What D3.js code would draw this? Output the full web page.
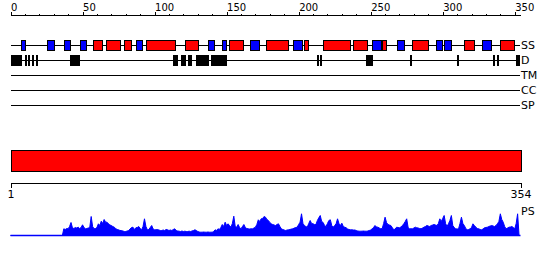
<!DOCTYPE html>
<html><head><meta charset="utf-8">
<script src="https://cdn.jsdelivr.net/npm/d3@7"></script>
<style>
body{margin:0;background:#fff}
svg{display:block}
text{font-family:"DejaVu Sans",sans-serif}
</style>
</head><body>
<svg id="chart" width="550" height="260"></svg>
<script>
// ---------------- data ----------------
const seqLength = 354;
const topMinorTicks = d3.range(0, 351, 10);
const topMajorTicks = [0, 50, 100, 150, 200, 250, 300, 350];
const bottomTicks = [1, 354];
const trackNames = ["SS", "D", "TM", "CC", "SP"];
const domainLabel = "PS";
// secondary structure: helices (red) and strands (blue), [start, end] residue positions
const helixRanges = [[57,63],[66,76],[79,84],[94,114],[121,130],[152,162],[177,192],[204,207],[217,236],[238,248],[258,261],[279,290],[315,322],[340,350]];
const strandRanges = [[7,10],[25,30],[37,41],[48,52],[87,91],[137,141],[147,150],[166,172],[196,202],[251,257],[268,273],[295,299],[301,306],[327,333]];
// disordered regions
const disorderRanges = [[0,7],[10,11],[12,13],[15,16],[18,19],[41,47],[113,116],[118,121],[123,125],[129,137],[139,148],[149,150],[213,214],[215,216],[247,251],[277,278],[310,311],[335,336],[338,339],[351,353]];
// domain bar
const domainRanges = [[1,354]];
// per-residue profile score (residues 0..353)
const psScores = [
0,0,0,0,0,0,0,0,0,0, 0,0,0,0,0,0,0,0,0,0,
0,0,0,0,0,0,0,0,0,0, 0,0,0,0,0,0,0,6.7,6,7,
6.7,9,13,7.7,7,8,7.5,8.3,7,8, 10.7,8,6.7,7,7.5,8,19,9,6.7,7,
8,11.7,10,14.3,12,16,13.3,13.3,11.7,10.5, 10,9,8.3,7,6,5.7,5,5,4.5,4,
4,4.5,5,6.5,8,8.3,6,7.7,8,9, 7,5.7,9,16.7,9,5.7,6,8,10,6.5,
5.7,5.7,6,5.5,5,5,5.5,5,6,5.7, 5,5.5,5,6,6.7,5,4.5,4.3,4,4.5,
4,4.3,4,4,4.3,4,4.5,5,5.7,5, 4,3.5,3.3,3.3,3.5,3.3,3.3,3.5,3.3,3.3,
3.3,4,5.7,5,6.7,6,8,11,9,13.3, 10,11.7,10,8.3,12,19.3,9,8.3,11,8,
6.7,9,11,8,7,6.7,6.5,6.7,6.7,7.5, 8.3,11,15.7,14,16.7,17,19,18.3,16,15,
13,11.7,11,10.5,10,11,11.7,9,6.7,6, 5.5,5,5.5,5.7,6,6.5,6.7,7.5,8,8.3,
11,13.3,21.7,12,10,9,8.3,12,15,12, 11.7,11,11,15,17.7,20,14,13,10,9,
12,15,15.7,10,8.3,10,11.7,16.7,12,10, 12.3,9,8.3,7.7,6.5,6,5.7,5.7,5.5,5.5,
5,4.5,4.3,4.3,4.3,4.5,4.3,4.3,4.5,5, 5.5,6.7,8,10,8.5,8.3,7.5,6.7,7,12,
18.3,13,11,10.5,10,8,5.7,6.5,8.3,8, 7.7,8.5,10,11.7,14,16.7,8,6.7,6.7,6.7,
7.5,8.3,7.7,7.5,7,6.7,7.5,8.3,9,10, 9.5,9,10,10.5,11,10.5,10,12,16.7,14,
17,20,12,9,11.7,15,20,10,8,6.7, 6.5,6.7,12,18.3,12,10,7,5.7,6,6.7,
8,11.7,10,8.3,7,6.7,6,5.7,6.5,7.7, 8,8.3,9,9.5,10,9.5,9,10,11.7,14,
21.7,16,13.3,9,6.7,7.5,8.3,8.5,9,8, 6.7,12,21.7,0
];

// ---------------- layout ----------------
const svg = d3.select("#chart");
const x = d3.scaleLinear().domain([0, seqLength]).range([10.5, 520.5]);
const xb = d3.scaleLinear().domain([1, seqLength]).range(x.range());
const trackY = d3.scalePoint().domain(trackNames).range([45.5, 105.5]);
const boxH = 10;
const labelX = 520;

// top axis
const axisY = 15.5;
const gTop = svg.append("g").attr("transform", `translate(0,${axisY})`)
  .attr("shape-rendering", "crispEdges");
gTop.call(d3.axisTop(x).tickValues(topMinorTicks).tickSize(2).tickSizeOuter(0).tickFormat(""));
const gTopMaj = svg.append("g").attr("transform", `translate(0,${axisY})`)
  .attr("shape-rendering", "crispEdges");
gTopMaj.call(d3.axisTop(x).tickValues(topMajorTicks).tickSize(4).tickSizeOuter(0).tickPadding(1));
gTopMaj.select(".domain").remove();
gTop.select(".domain").attr("d", `M${x(0)},0H${x(seqLength)}`);
svg.selectAll("g .tick text").attr("text-anchor", "start").attr("font-size", 10)
  .attr("font-family", '"DejaVu Sans",sans-serif').attr("fill", "#000");
svg.selectAll("g .tick line").attr("stroke", "#000");
svg.selectAll("g .domain").attr("stroke", "#000");

// track lines
const gTracks = svg.append("g");
gTracks.selectAll("line").data(trackNames).join("line")
  .attr("x1", x(0)).attr("x2", labelX)
  .attr("y1", d => trackY(d)).attr("y2", d => trackY(d))
  .attr("stroke", "#000").attr("stroke-width", 1).attr("shape-rendering", "crispEdges");
gTracks.selectAll("text").data(trackNames).join("text")
  .attr("x", labelX + 1).attr("y", d => trackY(d)).attr("dy", "0.36em")
  .attr("font-size", 11).attr("fill", "#000").text(d => d);

function drawBoxes(data, track, fill) {
  svg.append("g").selectAll("rect").data(data).join("rect")
    .attr("x", d => Math.round(x(d[0])) + 0.5)
    .attr("width", d => Math.max(1, Math.round(x(d[1]) - x(d[0]))))
    .attr("y", trackY(track) - boxH / 2)
    .attr("height", boxH)
    .attr("fill", fill).attr("stroke", "#000").attr("stroke-width", 1)
    .attr("shape-rendering", "crispEdges");
}
drawBoxes(helixRanges, "SS", "#ff0000");
drawBoxes(strandRanges, "SS", "#0000ff");
drawBoxes(disorderRanges, "D", "#000000");

// domain bar
svg.append("g").selectAll("rect").data(domainRanges).join("rect")
  .attr("x", d => Math.round(xb(d[0])) + 0.5)
  .attr("width", d => Math.round(xb(d[1]) - xb(d[0])))
  .attr("y", 150.5).attr("height", 21)
  .attr("fill", "#ff0000").attr("stroke", "#000").attr("stroke-width", 1)
  .attr("shape-rendering", "crispEdges");

// bottom axis
const gBot = svg.append("g").attr("transform", "translate(0,182.5)")
  .attr("shape-rendering", "crispEdges");
gBot.call(d3.axisBottom(xb).tickValues(bottomTicks).tickSize(5).tickSizeOuter(0).tickPadding(3));
gBot.selectAll("text").attr("font-size", 11).attr("font-family", '"DejaVu Sans",sans-serif').attr("fill", "#000");
gBot.selectAll("line, .domain").attr("stroke", "#000");

// profile
const y = d3.scaleLinear().domain([0, 30]).range([235.5, 205.5]);
const area = d3.area().x((d, i) => x(i)).y0(y(0)).y1(d => y(d));
const line = d3.line().x((d, i) => x(i)).y(d => y(d));
svg.append("path").datum(psScores).attr("d", area).attr("fill", "#0000ff");
svg.append("path").datum(psScores).attr("d", line).attr("fill", "none")
  .attr("stroke", "#0000ff").attr("stroke-width", 1);
svg.append("line").attr("x1", x(0)).attr("x2", x(seqLength))
  .attr("y1", y(0)).attr("y2", y(0)).attr("stroke", "#0000ff").attr("stroke-width", 1.5);
svg.append("text").attr("x", labelX + 1).attr("y", 211).attr("dy", "0.36em")
  .attr("font-size", 11).attr("fill", "#000").text(domainLabel);
</script>
</body></html>
